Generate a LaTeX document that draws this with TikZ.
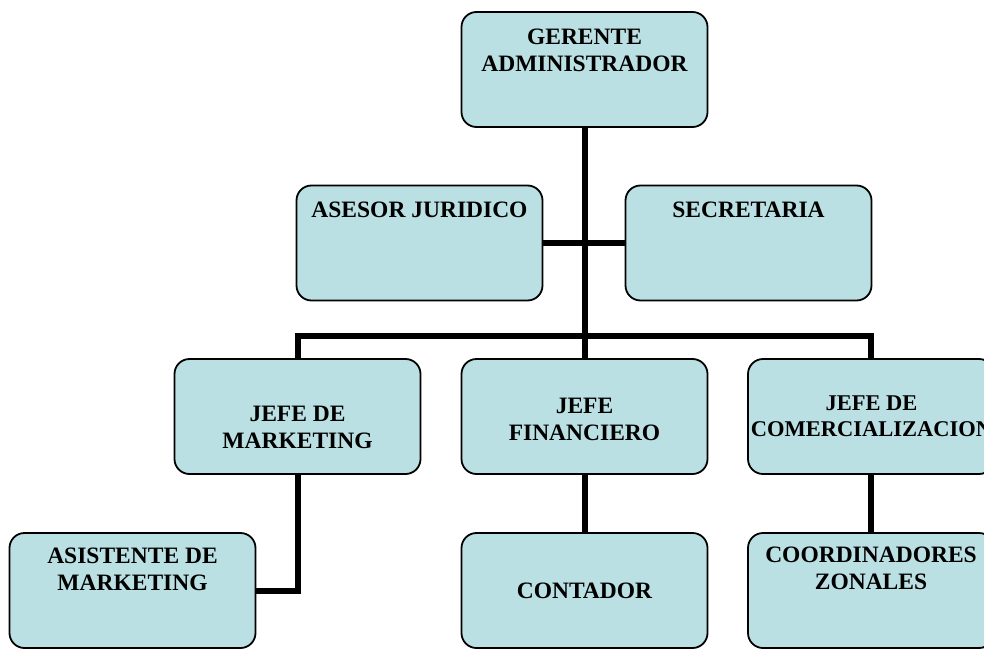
\documentclass[tikz,border=0pt]{standalone}
\usepackage{fontspec}
\setmainfont{Liberation Serif}
\usepackage{tikz}
\usetikzlibrary{calc,shapes,positioning}
\definecolor{boxfill}{RGB}{187,224,227}

\begin{document}
\begin{tikzpicture}[x=1pt,y=-1pt]
    \useasboundingbox (0,0) rectangle (984,650);

      \tikzstyle{bnode} = [draw=black, line width=1.8pt, fill=boxfill, rectangle, rounded corners = 15pt, minimum width=246pt, minimum height=115pt, inner sep=0pt]
      \tikzstyle{tnode} = [align=center, inner sep=0pt, font=\bfseries\fontsize{23.5}{27}\selectfont]
      \tikzstyle{conn} = [line width=6pt]

      % boxes
      \node[bnode] (ger) at (584.5, 69.5) {};
      \node[bnode] (ase) at (419.5, 243) {};
      \node[bnode] (sec) at (748.5, 243) {};
      \node[bnode] (mkt) at (297.5, 416.5) {};
      \node[bnode] (fin) at (584.5, 416.5) {};
      \node[bnode] (com) at (871, 416.5) {};
      \node[bnode] (asi) at (132.5, 590.5) {};
      \node[bnode] (con) at (584.5, 590.5) {};
      \node[bnode] (coo) at (871, 590.5) {};

      % texts
      \node[tnode] (tger) at (584.5, 50) {GERENTE\\ADMINISTRADOR};
      \node[tnode] (tase) at (419.5, 209.5) {ASESOR JURIDICO};
      \node[tnode] (tsec) at (748.5, 209.5) {SECRETARIA};
      \node[tnode] (tmkt) at (297.5, 427.5) {JEFE DE\\MARKETING};
      \node[tnode] (tfin) at (584.5, 419) {JEFE\\FINANCIERO};
      \node[tnode, font=\bfseries\fontsize{22.5}{26}\selectfont] (tcom) at (871.5, 416) {JEFE DE\\COMERCIALIZACION};
      \node[tnode] (tasi) at (132.5, 569) {ASISTENTE DE\\MARKETING};
      \node[tnode] (tcon) at (584.5, 591) {CONTADOR};
      \node[tnode] (tcoo) at (871, 568) {COORDINADORES\\ZONALES};

      \coordinate (bus) at (584.5, 336);

      % edges
      \draw[conn] (ger.south) -- (fin.north);
      \draw[conn] (ase.east) -- (sec.west);
      \draw[conn] (mkt.north) |- (bus) -| (com.north);
      \draw[conn] (mkt.south) |- (asi.east);
      \draw[conn] (fin.south) -- (con.north);
      \draw[conn] (com.south) -- (coo.north);

\end{tikzpicture}
\end{document}
